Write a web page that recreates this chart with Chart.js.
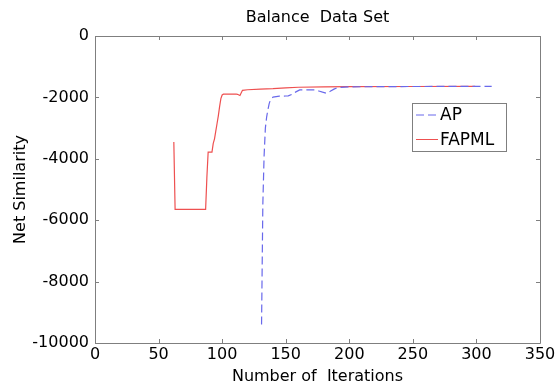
<!DOCTYPE html>
<html>
<head>
<meta charset="utf-8">
<script src="https://cdn.jsdelivr.net/npm/chart.js@4/dist/chart.umd.min.js"></script>
<style>
html,body{margin:0;padding:0;background:#fff;}
#wrap{width:559px;height:386px;}
</style>
</head>
<body>
<div id="wrap"><canvas id="c" width="559" height="386"></canvas></div>
<script>
const chartTitle = "Balance  Data Set";
const xTitle = "Number of  Iterations";
const yTitle = "Net Similarity";
const xTicks = [0, 50, 100, 150, 200, 250, 300, 350];
const yTicks = [0, -2000, -4000, -6000, -8000, -10000];

const apIter   = [131, 132, 133, 134, 135, 136, 137, 138, 139, 140, 145, 150, 152, 155, 158, 161, 165, 170, 173, 176, 179, 182, 185, 188, 191, 200, 250, 312];
const apValues = [-9400, -5500, -3900, -3000, -2640, -2400, -2200, -2080, -2030, -1990, -1960, -1955, -1950, -1900, -1820, -1755, -1755, -1755, -1755, -1790, -1830, -1863, -1800, -1730, -1677, -1655, -1645, -1640];

const fapmlIter   = [62, 63, 87, 88, 89, 92, 93, 94, 95, 96, 97, 98, 99, 100, 101, 111, 112, 114, 116, 120, 130, 140, 150, 160, 180, 200, 250, 299];
const fapmlValues = [-3450, -5650, -5650, -4600, -3780, -3780, -3500, -3350, -3100, -2850, -2600, -2300, -2040, -1920, -1895, -1890, -1900, -1940, -1770, -1750, -1730, -1715, -1690, -1670, -1660, -1650, -1645, -1640];

const FONT = "'DejaVu Sans', sans-serif";
const AXIS_GRAY = '#7f7f7f';

const frame = {
  id: 'frame',
  afterDraw(chart) {
    const ctx = chart.ctx;
    const a = chart.chartArea;
    const xs = chart.scales.x, ys = chart.scales.y;
    ctx.save();
    ctx.strokeStyle = AXIS_GRAY;
    ctx.lineWidth = 1;
    ctx.beginPath();
    ctx.rect(Math.round(a.left) + 0.5, Math.round(a.top) + 0.5, Math.round(a.right - a.left), Math.round(a.bottom - a.top));
    ctx.stroke();
    const L = 4;
    ctx.beginPath();
    xs.ticks.forEach(t => {
      const p = Math.round(xs.getPixelForValue(t.value)) + 0.5;
      ctx.moveTo(p, a.bottom); ctx.lineTo(p, a.bottom - L);
      ctx.moveTo(p, a.top); ctx.lineTo(p, a.top + L);
    });
    ys.ticks.forEach(t => {
      const p = Math.round(ys.getPixelForValue(t.value)) + 0.5;
      ctx.moveTo(a.left, p); ctx.lineTo(a.left + L, p);
      ctx.moveTo(a.right, p); ctx.lineTo(a.right - L, p);
    });
    ctx.stroke();

    // legend box
    const bx = 412, by = 103, bw = 94, bh = 48;
    ctx.fillStyle = '#fff';
    ctx.fillRect(bx, by, bw, bh);
    ctx.strokeStyle = AXIS_GRAY;
    ctx.strokeRect(bx + 0.5, by + 0.5, bw, bh);
    ctx.font = "17px " + FONT;
    ctx.textBaseline = 'middle';
    ctx.textAlign = 'left';
    chart.data.datasets.forEach((ds, i) => {
      const yy = by + 12 + i * 24.5;
      ctx.strokeStyle = ds.borderColor;
      ctx.lineWidth = 1;
      ctx.setLineDash(ds.borderDash || []);
      ctx.beginPath();
      ctx.moveTo(bx + 4, yy); ctx.lineTo(bx + 26, yy);
      ctx.stroke();
      ctx.setLineDash([]);
      ctx.fillStyle = '#000';
      ctx.fillText(ds.label, bx + 28, yy + 1);
    });
    ctx.restore();
  }
};

new Chart(document.getElementById('c'), {
  type: 'scatter',
  data: {
    datasets: [
      {
        label: 'AP',
        data: apIter.map((x, i) => ({x: x, y: apValues[i]})),
        showLine: true,
        borderColor: 'rgb(105,105,235)',
        borderWidth: 1.2,
        borderDash: [8, 4],
        pointRadius: 0,
        tension: 0
      },
      {
        label: 'FAPML',
        data: fapmlIter.map((x, i) => ({x: x, y: fapmlValues[i]})),
        showLine: true,
        borderColor: 'rgb(238,80,80)',
        borderWidth: 1.2,
        pointRadius: 0,
        tension: 0
      }
    ]
  },
  options: {
    responsive: false,
    animation: false,
    devicePixelRatio: 1,
    layout: { padding: { left: 0, right: 19, top: 0, bottom: 0 } },
    plugins: {
      legend: { display: false },
      tooltip: { enabled: false },
      title: {
        display: true,
        fullSize: false,
        text: chartTitle,
        color: '#000',
        font: { family: FONT, size: 16, weight: 'normal', lineHeight: 1.2 },
        padding: { top: 8.4, bottom: 8.4 }
      }
    },
    scales: {
      x: {
        type: 'linear',
        min: 0, max: 350,
        afterBuildTicks: s => { s.ticks = xTicks.map(v => ({value: v})); },
        afterFit: s => { s.height = 43; },
        grid: { display: false, drawTicks: false },
        border: { display: false },
        ticks: { color: '#000', font: { family: FONT, size: 16 }, padding: 2, maxRotation: 0, autoSkip: false, callback: v => String(v) },
        title: { display: true, text: xTitle, color: '#000', font: { family: FONT, size: 16 }, padding: { top: 0, bottom: 0 } }
      },
      y: {
        type: 'linear',
        min: -10000, max: 0,
        afterBuildTicks: s => { s.ticks = yTicks.map(v => ({value: v})); },
        afterFit: s => { s.width = 95; },
        grid: { display: false, drawTicks: false },
        border: { display: false },
        ticks: { color: '#000', font: { family: FONT, size: 16 }, padding: 6, autoSkip: false, callback: v => String(v) },
        title: { display: true, text: yTitle, color: '#000', font: { family: FONT, size: 16 }, padding: { top: 11, bottom: 0 } }
      }
    }
  },
  plugins: [frame]
});
</script>
</body>
</html>
